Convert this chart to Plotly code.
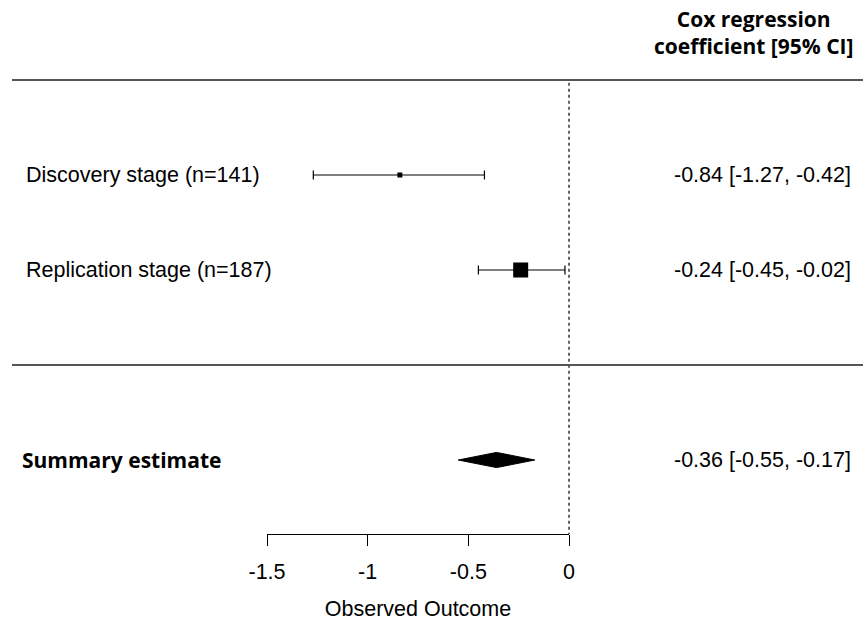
import plotly.graph_objects as go

# Study-level estimates (Cox regression coefficients with 95% CI)
studies = ["Discovery stage (n=141)", "Replication stage (n=187)"]
est = [-0.84, -0.24]
ci_lo = [-1.27, -0.45]
ci_hi = [-0.42, -0.02]
study_rows = [2, 1]
marker_sizes = [5, 15]

# Pooled estimate
summary_label = "Summary estimate"
summary_est = -0.36
summary_lo = -0.55
summary_hi = -0.17
summary_row = -1

# Axis ticks
tick_vals = [-1.5, -1, -0.5, 0]
tick_text = ["-1.5", "-1", "-0.5", "0"]

header_text = "Cox regression<br>coefficient [95% CI]"

W, H = 863, 621
# Pixel layout of the plotting region
ax_left_px, ax_right_px = 267, 569
ppu = (ax_right_px - ax_left_px) / (tick_vals[-1] - tick_vals[0])
x_range = [tick_vals[0] - ax_left_px / ppu, tick_vals[-1] + (W - ax_right_px) / ppu]

row_px = 95.0
row1_px = 270.0
y_top = 1 + row1_px / row_px
y_bot = 1 - (H - row1_px) / row_px
axis_row = 1 - (534 - row1_px) / row_px
axis_pos = (axis_row - y_bot) / (y_top - y_bot)

LABEL_FONT = dict(family="Liberation Sans, Arial, sans-serif", size=21.5, color="black")
BOLD_FONT = dict(family="Open Sans, Lato, sans-serif", size=21, color="black")


def fmt(v):
    return f"{v:.2f}"


fig = go.Figure()

# Reference line at zero effect
fig.add_trace(go.Scatter(
    x=[0, 0], y=[3 - 0.03, axis_row],
    mode="lines", line=dict(color="black", width=1.2, dash="dot"),
    showlegend=False, hoverinfo="skip",
))

# Study estimates with confidence intervals
for name, e, lo, hi, r, s in zip(studies, est, ci_lo, ci_hi, study_rows, marker_sizes):
    fig.add_trace(go.Scatter(
        x=[e], y=[r], mode="markers",
        marker=dict(symbol="square", size=s, color="black", line=dict(width=0)),
        error_x=dict(type="data", symmetric=False, array=[hi - e], arrayminus=[e - lo],
                     color="black", thickness=1.2, width=4.5),
        showlegend=False, name=name,
    ))

# Summary diamond
dh = 0.08
fig.add_trace(go.Scatter(
    x=[summary_lo, summary_est, summary_hi, summary_est, summary_lo],
    y=[summary_row, summary_row + dh, summary_row, summary_row - dh, summary_row],
    mode="lines", fill="toself", fillcolor="black",
    line=dict(color="black", width=1), showlegend=False, name=summary_label,
))

# Carrier trace for the visible effect axis
fig.add_trace(go.Scatter(
    x=[tick_vals[0], tick_vals[-1]], y=[axis_row, axis_row], xaxis="x2",
    mode="lines", opacity=0, showlegend=False, hoverinfo="skip",
))

annotations = []
for name, e, lo, hi, r in zip(studies, est, ci_lo, ci_hi, study_rows):
    annotations.append(dict(x=24 / W, xref="paper", y=r, yref="y", text=name,
                            xanchor="left", yanchor="middle", showarrow=False, font=LABEL_FONT))
    annotations.append(dict(x=853 / W, xref="paper", y=r, yref="y",
                            text=f"{fmt(e)} [{fmt(lo)}, {fmt(hi)}]",
                            xanchor="right", yanchor="middle", showarrow=False, font=LABEL_FONT))
annotations.append(dict(x=20 / W, xref="paper", y=summary_row, yref="y", text=f"<b>{summary_label}</b>",
                        xanchor="left", yanchor="middle", showarrow=False, font=BOLD_FONT))
annotations.append(dict(x=853 / W, xref="paper", y=summary_row, yref="y",
                        text=f"{fmt(summary_est)} [{fmt(summary_lo)}, {fmt(summary_hi)}]",
                        xanchor="right", yanchor="middle", showarrow=False, font=LABEL_FONT))
annotations.append(dict(x=855 / W, xref="paper", y=3.5, yref="y", text=f"<b>{header_text}</b>",
                        xanchor="right", yanchor="middle", align="center", showarrow=False, font=BOLD_FONT))

shapes = [
    dict(type="line", xref="paper", yref="y", x0=12 / W, x1=1, y0=3, y1=3,
         line=dict(color="#555555", width=2)),
    dict(type="line", xref="paper", yref="y", x0=12 / W, x1=1, y0=0, y1=0,
         line=dict(color="#555555", width=2)),
]

fig.update_layout(
    width=W, height=H,
    margin=dict(l=0, r=0, t=0, b=0, pad=0, autoexpand=False),
    paper_bgcolor="white", plot_bgcolor="rgba(0,0,0,0)",
    xaxis=dict(range=x_range, domain=[0, 1], visible=False, fixedrange=True, automargin=False),
    xaxis2=dict(range=[tick_vals[0], tick_vals[-1]], domain=[ax_left_px / W, ax_right_px / W],
                anchor="free", position=axis_pos, side="bottom", automargin=False,
                showline=True, linecolor="black", linewidth=1, showgrid=False, zeroline=False,
                ticks="outside", ticklen=11, tickcolor="black", tickwidth=1,
                tickvals=tick_vals, ticktext=tick_text, tickfont=LABEL_FONT,
                ticklabelstandoff=7, fixedrange=True,
                title=dict(text="Observed Outcome", font=LABEL_FONT, standoff=21)),
    yaxis=dict(range=[y_bot, y_top], domain=[0, 1], visible=False, fixedrange=True, automargin=False),
    annotations=annotations, shapes=shapes,
)

fig.write_html("out.html")
